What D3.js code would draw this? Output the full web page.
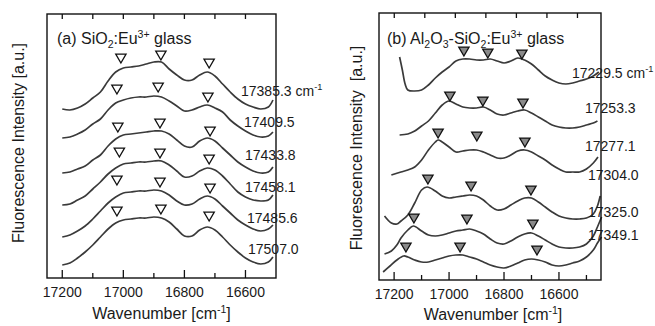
<!DOCTYPE html>
<html><head><meta charset="utf-8">
<script src="https://cdn.jsdelivr.net/npm/d3@7"></script>
<style>
body{margin:0;background:#fff;}
text{font-family:"Liberation Sans",Arial,Helvetica,sans-serif;fill:#1a1a1a;}
</style>
</head><body>
<svg id="c" width="655" height="326"></svg>
<script>
// ---------------- DATA ----------------
// Panel (a) SiO2:Eu3+ glass — excitation wavenumbers
const labelsA = ["17385.3","17409.5","17433.8","17458.1","17485.6","17507.0"];
const wnA = [17200,17175,17150,17125,17100,17075,17050,17025,17000,16975,16950,16925,16900,16875,16850,16825,16800,16775,16750,16725,16700,16675,16650,16625,16600,16575,16550,16525,16510];
const a17385 = [169,168,170,174,180,186,197,206,210,211,212,214,216,216,209,203,198,198,203,206,202,194,186,179,174,171,169,171,178];
const a17409 = [140,141,144,148,154,159,168,175,178,180,181,181,182,181,177,172,167,168,171,173,170,166,158,152,147,143,141,142,146];
const a17433 = [105,106,109,112,118,123,132,139,143,144,145,146,147,147,144,138,132,131,137,140,137,130,123,116,111,107,105,106,111];
const a17458 = [73,74,78,82,89,96,104,110,114,115,116,116,117,117,113,107,101,102,107,110,108,102,94,86,81,78,77,78,83];
const a17485 = [41,43,47,52,59,67,75,81,85,86,87,87,88,87,83,77,73,74,79,82,79,72,65,58,53,49,47,49,53];
const a17507 = [13,15,20,26,33,41,49,55,58,59,60,60,61,60,56,49,42,42,48,51,48,41,33,26,20,16,14,16,21];
const peaksA_wn = [[17008,16877,16719],[17021,16886,16723],[17018,16880,16716],[17013,16880,16719],[17021,16880,16716],[17021,16877,16719]];
const peaksA_val = [[221,224,216],[190,192,182],[152,156,148],[127,126,120],[99,97,91],[68,70,63]];

// Panel (b) Al2O3-SiO2:Eu3+ glass
const labelsB = ["17229.5","17253.3","17277.1","17304.0","17325.0","17349.1"];
const wnB1 = [17180,17170,17160,17150,17125,17100,17075,17050,17025,17000,16975,16950,16925,16900,16875,16850,16825,16800,16775,16750,16725,16700,16675,16650,16625,16600,16575,16550,16525,16500,16475,16455];
const b17229 = [223,210,196,190,189,190,195,202,208,213,219,221,221,220,220,221,219,217,219,222,220,216,210,204,200,197,196,197,199,201,204,208];
const wnB2 = [17180,17150,17125,17100,17075,17050,17025,17000,16975,16950,16925,16900,16875,16850,16825,16800,16775,16750,16725,16700,16675,16650,16625,16600,16575,16550,16525,16500,16475,16460];
const b17253 = [145,146,149,154,159,167,175,179,176,173,172,172,173,170,166,165,167,169,170,167,163,159,155,153,152,152,153,155,157,159];
const wnB3 = [17210,17175,17150,17125,17100,17075,17050,17040,17025,17000,16975,16950,16925,16900,16875,16850,16825,16800,16775,16750,16725,16700,16675,16650,16625,16600,16575,16550,16525,16500,16475,16458];
const b17277 = [105,108,110,113,120,130,138,140,138,133,128,129,130,130,128,125,122,122,125,129,130,128,124,120,115,111,108,108,108,111,117,123];
const wnB4 = [17235,17210,17190,17175,17150,17125,17100,17080,17050,17025,17000,16975,16950,16925,16900,16875,16850,16825,16800,16775,16750,16725,16700,16675,16650,16625,16600,16575,16550,16525,16500,16475,16460,16450];
const b17304 = [64,57,56,59,65,77,90,93,89,84,82,83,84,85,84,80,74,70,71,75,79,82,82,78,73,68,64,62,61,61,62,66,74,84];
const wnB5 = [17235,17210,17190,17175,17150,17130,17100,17075,17050,17025,17000,16975,16950,16925,16900,16875,16850,16825,16800,16775,16750,16725,16700,16675,16650,16625,16600,16575,16550,16525,16500,16475,16460,16445];
const b17325 = [26,29,35,42,50,54,49,45,44,45,47,49,50,51,49,46,41,37,36,39,43,46,47,44,40,36,33,32,32,33,36,44,53,63];
const wnB6 = [17240,17215,17190,17165,17150,17125,17100,17075,17050,17025,17000,16975,16950,16925,16900,16875,16850,16825,16800,16775,16750,16725,16700,16675,16650,16625,16600,16575,16550,16525,16500,16475,16460,16445];
const b17349 = [8,14,20,24,23,20,18,18,20,22,24,25,25,23,21,18,15,13,12,14,17,20,21,20,18,15,14,15,17,19,23,30,37,43];
const peaksB_wn = [[16946,16859,16735],[16997,16877,16731],[17040,16899,16724],[17077,16920,16702],[17128,16935,16695],[17157,16960,16680]];
const peaksB_val = [[230,228,227],[185,180,178],[148,145,139],[102,95,91],[63,62,57],[34,34,31]];

const tickValsAll = [17200,17100,17000,16900,16800,16700,16600,16500];
const tickLabelVals = [17200,17000,16800,16600];

// ---------------- LAYOUT ----------------
const svg = d3.select("#c");

const P = {
  a: {x0:47, x1:276, y0:14, y1:278, dom:[17250,16500], ymax:264, topDom:[17250,16500]},
  b: {x0:379, x1:601, y0:13, y1:280, dom:[17255,16447], ymax:267, topDom:[17250,16500]}
};

// text with sub/superscripts; the baseline shift is undone on the following tspan
function richText(g, x, y, parts, size, anchor){
  const t = g.append("text").attr("x",x).attr("y",y).attr("font-size",size)
    .attr("text-anchor",anchor||"start");
  let pending = 0;
  parts.forEach(p=>{
    if(typeof p === "string"){
      t.append("tspan").attr("dy",pending).text(p); pending = 0;
    } else if(p.sub){
      const d = size*0.28;
      t.append("tspan").attr("font-size",size*0.66).attr("dy",pending + d).text(p.sub); pending = -d;
    } else if(p.sup){
      const d = -size*0.4;
      t.append("tspan").attr("font-size",size*0.66).attr("dy",pending + d).text(p.sup); pending = -d;
    }
  });
  return t;
}

function panel(cfg, series, peaksWn, peaksVal, filled){
  const x = d3.scaleLinear().domain(cfg.dom).range([cfg.x0,cfg.x1]);
  const xTop = d3.scaleLinear().domain(cfg.topDom).range([cfg.x0, cfg.x0 + (P.a.x1-P.a.x0)]);
  const y = d3.scaleLinear().domain([0,cfg.ymax]).range([cfg.y1,cfg.y0]);
  const g = svg.append("g");

  const line = d3.line().x(d=>x(d[0])).y(d=>y(d[1])).curve(d3.curveCatmullRom.alpha(0.5));
  series.forEach(s=>{
    const pts = s.wn.map((w,i)=>[w,s.v[i]]);
    g.append("path").attr("d",line(pts)).attr("fill","none")
      .attr("stroke","#3a3a3a").attr("stroke-width",1.7).attr("stroke-linejoin","round");
  });

  const tri = d3.symbol().type(d3.symbolTriangle).size(46);
  peaksWn.forEach((row,i)=>{
    row.forEach((w,j)=>{
      g.append("path").attr("d",tri())
        .attr("transform",`translate(${x(w)},${y(peaksVal[i][j])}) rotate(180)`)
        .attr("fill", filled ? "#8a8a8a" : "#fff")
        .attr("stroke", "#111").attr("stroke-width",1.3);
    });
  });

  g.append("rect").attr("x",cfg.x0).attr("y",cfg.y0)
    .attr("width",cfg.x1-cfg.x0).attr("height",cfg.y1-cfg.y0)
    .attr("fill","none").attr("stroke","#111").attr("stroke-width",1.4);

  tickValsAll.filter(v=>x(v)<cfg.x1-2).forEach(v=>{
    const major = tickLabelVals.includes(v);
    g.append("line").attr("x1",x(v)).attr("x2",x(v))
      .attr("y1",cfg.y1).attr("y2",cfg.y1-(major?8:5))
      .attr("stroke","#111").attr("stroke-width",1.3);
  });
  tickValsAll.filter(v=>xTop(v)<cfg.x1-2).forEach(v=>{
    g.append("line").attr("x1",xTop(v)).attr("x2",xTop(v))
      .attr("y1",cfg.y0).attr("y2",cfg.y0+5)
      .attr("stroke","#111").attr("stroke-width",1.3);
  });
  tickLabelVals.forEach(v=>{
    g.append("text").attr("x",x(v)).attr("y",cfg.y1+19).attr("text-anchor","middle")
      .attr("font-size",14).text(v);
  });
  return {x,y,g};
}

panel(P.a, [
  {wn:wnA,v:a17385},{wn:wnA,v:a17409},{wn:wnA,v:a17433},
  {wn:wnA,v:a17458},{wn:wnA,v:a17485},{wn:wnA,v:a17507}], peaksA_wn, peaksA_val, false);
panel(P.b, [
  {wn:wnB1,v:b17229},{wn:wnB2,v:b17253},{wn:wnB3,v:b17277},
  {wn:wnB4,v:b17304},{wn:wnB5,v:b17325},{wn:wnB6,v:b17349}], peaksB_wn, peaksB_val, true);

// panel titles
richText(svg, 57, 44, ["(a) SiO",{sub:"2"},":Eu",{sup:"3+"}," glass"], 16);
richText(svg, 387, 44, ["(b) Al",{sub:"2"},"O",{sub:"3"},"-SiO",{sub:"2"},":Eu",{sup:"3+"}," glass"], 16);

// curve labels
const labPosA = [[241,96],[244,127],[245,160],[245,192],[247,223],[248,254]];
labelsA.forEach((l,i)=>{
  richText(svg, labPosA[i][0], labPosA[i][1], i===0?[l+" cm",{sup:"-1"}]:[l], 14);
});
const labPosB = [[572,78],[585,113],[585,151],[588,180],[588,217],[588,240]];
labelsB.forEach((l,i)=>{
  richText(svg, labPosB[i][0], labPosB[i][1], i===0?[l+" cm",{sup:"-1"}]:[l], 14);
});

// axis titles
richText(svg, (P.a.x0+P.a.x1)/2, 319, ["Wavenumber [cm",{sup:"-1"},"]"], 16, "middle");
richText(svg, (P.b.x0+P.b.x1)/2 + 3, 320, ["Wavenumber [cm",{sup:"-1"},"]"], 16, "middle");
svg.append("text").attr("transform","translate(24,143) rotate(-90)")
  .attr("text-anchor","middle").attr("font-size",16).text("Fluorescence Intensity [a.u.]");
svg.append("text").attr("transform","translate(362,148) rotate(-90)")
  .attr("text-anchor","middle").attr("font-size",16)
  .style("white-space","pre").text("Fluorescence Intensity  [a.u.]");
</script>
</body></html>
